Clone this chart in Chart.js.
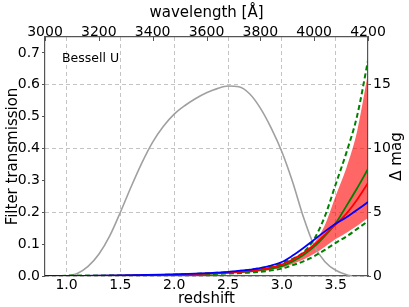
<!DOCTYPE html>
<html>
<head>
<meta charset="utf-8">
<script src="https://cdn.jsdelivr.net/npm/chart.js@4"></script>
<style>
  html, body { margin: 0; padding: 0; background: #fff; }
  #wrap { width: 409px; height: 307px; }
</style>
</head>
<body>
<div id="wrap"><canvas id="chart" width="409" height="307"></canvas></div>
<script>
// filter curve (left axis)
const zFilter = [1.0, 1.1, 1.2, 1.3, 1.4, 1.5, 1.6, 1.7, 1.8, 1.9, 2.0, 2.1, 2.2, 2.3, 2.4, 2.5, 2.6, 2.7, 2.8, 2.9, 3.0, 3.1, 3.2, 3.3, 3.4, 3.5, 3.6, 3.65];
const transmission = [0, 0.008, 0.03, 0.068, 0.125, 0.2, 0.28, 0.355, 0.42, 0.47, 0.508, 0.535, 0.557, 0.575, 0.588, 0.596, 0.594, 0.572, 0.527, 0.465, 0.39, 0.295, 0.185, 0.095, 0.045, 0.018, 0.004, 0];

// delta mag curves (right axis)
const zMag = [0.8, 1.0, 1.5, 2.0, 2.25, 2.5, 2.75, 3.0, 3.1, 3.2, 3.3, 3.4, 3.5, 3.6, 3.7, 3.8];
const blueMag  = [0, 0.01, 0.04, 0.12, 0.2, 0.33, 0.55, 1.1, 1.6, 2.2, 2.85, 3.5, 4.1, 4.6, 5.2, 5.8];
const redMag   = [0, 0.01, 0.03, 0.1, 0.17, 0.28, 0.45, 0.9, 1.3, 1.8, 2.45, 3.25, 4.05, 4.9, 6.0, 7.3];
const greenMag = [0, 0.01, 0.03, 0.09, 0.15, 0.25, 0.4, 0.78, 1.15, 1.65, 2.3, 3.15, 4.15, 5.5, 6.9, 8.4];
const upperDash = [0, 0.01, 0.04, 0.11, 0.19, 0.3, 0.55, 1.0, 1.35, 1.85, 2.9, 4.7, 7.2, 9.7, 12.6, 16.9];
const lowerDash = [0, 0.01, 0.02, 0.07, 0.12, 0.2, 0.3, 0.58, 0.85, 1.15, 1.55, 2.05, 2.6, 3.1, 3.7, 4.3];
const bandHi = [0, 0.01, 0.035, 0.1, 0.18, 0.28, 0.5, 0.95, 1.3, 1.75, 2.6, 4.0, 6.3, 8.5, 11.4, 15.9];
const bandLo = [0, 0.01, 0.025, 0.08, 0.13, 0.22, 0.34, 0.65, 0.95, 1.3, 1.75, 2.3, 2.9, 3.4, 3.95, 4.55];

// tick labels
const zTicks = [1.0, 1.5, 2.0, 2.5, 3.0, 3.5];
const waveTicks = [3000, 3200, 3400, 3600, 3800, 4000, 4200];
const transTicks = [0, 0.1, 0.2, 0.3, 0.4, 0.5, 0.6, 0.7];
const magTicks = [0, 5, 10, 15];

const pts = (xs, ys) => xs.map((x, i) => ({ x: x, y: ys[i] }));
const setTicks = vals => scale => { scale.ticks = vals.map(v => ({ value: v })); };

const FONT = "'DejaVu Sans', sans-serif";
Chart.defaults.font.family = FONT;
Chart.defaults.color = "#000";

const frame = "#555";
const gridCol = "#c4c4c4";

const lineDs = (label, data, color, extra) => Object.assign({
  label: label,
  data: data,
  yAxisID: "y2",
  borderColor: color,
  borderWidth: 1.8,
  pointRadius: 0,
  fill: false,
  cubicInterpolationMode: "monotone"
}, extra || {});

const labels = {
  id: "labels",
  afterDraw(chart) {
    const ctx = chart.ctx;
    const a = chart.chartArea;
    ctx.save();
    ctx.fillStyle = "#000";
    ctx.font = "12.5px " + FONT;
    ctx.textBaseline = "alphabetic";
    ctx.fillText("Bessell U", a.left + 17, a.top + 25);
    // small inward ticks on the top axis
    const top = chart.scales.x2;
    ctx.strokeStyle = frame;
    ctx.lineWidth = 1;
    waveTicks.forEach(v => {
      const px = Math.round(top.getPixelForValue(v)) + 0.5;
      ctx.beginPath();
      ctx.moveTo(px, a.top);
      ctx.lineTo(px, a.top + 4);
      ctx.stroke();
    });
    ctx.font = "15px " + FONT;
    ctx.translate(397, (a.top + a.bottom) / 2);
    ctx.rotate(-Math.PI / 2);
    ctx.textAlign = "center";
    ctx.textBaseline = "middle";
    ctx.fillText("Δ mag", 0, 0);
    ctx.restore();
  }
};

new Chart(document.getElementById("chart"), {
  type: "line",
  data: {
    datasets: [
      lineDs("blue", pts(zMag, blueMag), "#0000ff"),
      lineDs("red", pts(zMag, redMag), "#ff0000"),
      lineDs("green", pts(zMag, greenMag), "#008000"),
      lineDs("upper", pts(zMag, upperDash), "#008000", { borderDash: [5, 3], borderWidth: 2 }),
      lineDs("lower", pts(zMag, lowerDash), "#008000", { borderDash: [5, 3], borderWidth: 2 }),
      {
        label: "filter",
        data: pts(zFilter, transmission),
        yAxisID: "y",
        borderColor: "#a0a0a0",
        borderWidth: 1.6,
        pointRadius: 0,
        fill: false,
        cubicInterpolationMode: "monotone"
      },
      lineDs("bandHi", pts(zMag, bandHi), "transparent", { borderWidth: 0, fill: "+1", backgroundColor: "rgba(255,0,0,0.6)" }),
      lineDs("bandLo", pts(zMag, bandLo), "transparent", { borderWidth: 0 })
    ]
  },
  options: {
    responsive: false,
    animation: false,
    devicePixelRatio: 1,
    layout: { padding: 0 },
    plugins: { legend: { display: false }, tooltip: { enabled: false } },
    scales: {
      x: {
        type: "linear",
        position: "bottom",
        min: 0.8,
        max: 3.8,
        afterBuildTicks: setTicks(zTicks),
        afterFit: s => { s.height = 31; },
        ticks: { font: { size: 14 }, padding: 1, autoSkip: false, maxRotation: 0, callback: v => v.toFixed(1) },
        grid: { color: gridCol, drawTicks: false },
        border: { color: frame, width: 1.2, dash: [4, 3] },
        title: { display: true, text: "redshift", font: { size: 15, lineHeight: 1 }, padding: 0 }
      },
      x2: {
        type: "linear",
        position: "top",
        min: 3000,
        max: 4200,
        afterBuildTicks: setTicks(waveTicks),
        afterFit: s => { s.height = 37; },
        ticks: { font: { size: 14 }, padding: -4, autoSkip: false, maxRotation: 0, callback: v => String(v) },
        grid: { display: false, drawTicks: false },
        border: { color: frame, width: 1.2 },
        title: { display: true, text: "wavelength [Å]", font: { size: 15 }, padding: { top: 4, bottom: 0 } }
      },
      y: {
        type: "linear",
        position: "left",
        min: 0,
        max: 0.75,
        afterBuildTicks: setTicks(transTicks),
        afterFit: s => { s.width = 45; },
        ticks: { font: { size: 14 }, padding: 2, callback: v => v.toFixed(1) },
        grid: { drawOnChartArea: false, tickLength: 3, color: frame },
        border: { color: frame, width: 1.2 },
        title: { display: true, text: "Filter transmission", font: { size: 15 }, padding: { top: 4, bottom: 0 } }
      },
      y2: {
        type: "linear",
        position: "right",
        min: 0,
        max: 18.75,
        afterBuildTicks: setTicks(magTicks),
        afterFit: s => { s.width = 41; },
        ticks: { font: { size: 14 }, padding: 2 },
        grid: { color: gridCol, tickColor: frame, tickLength: 3 },
        border: { color: frame, width: 1.2, dash: [4, 3] },
        title: { display: false }
      }
    }
  },
  plugins: [labels]
});
</script>
</body>
</html>
